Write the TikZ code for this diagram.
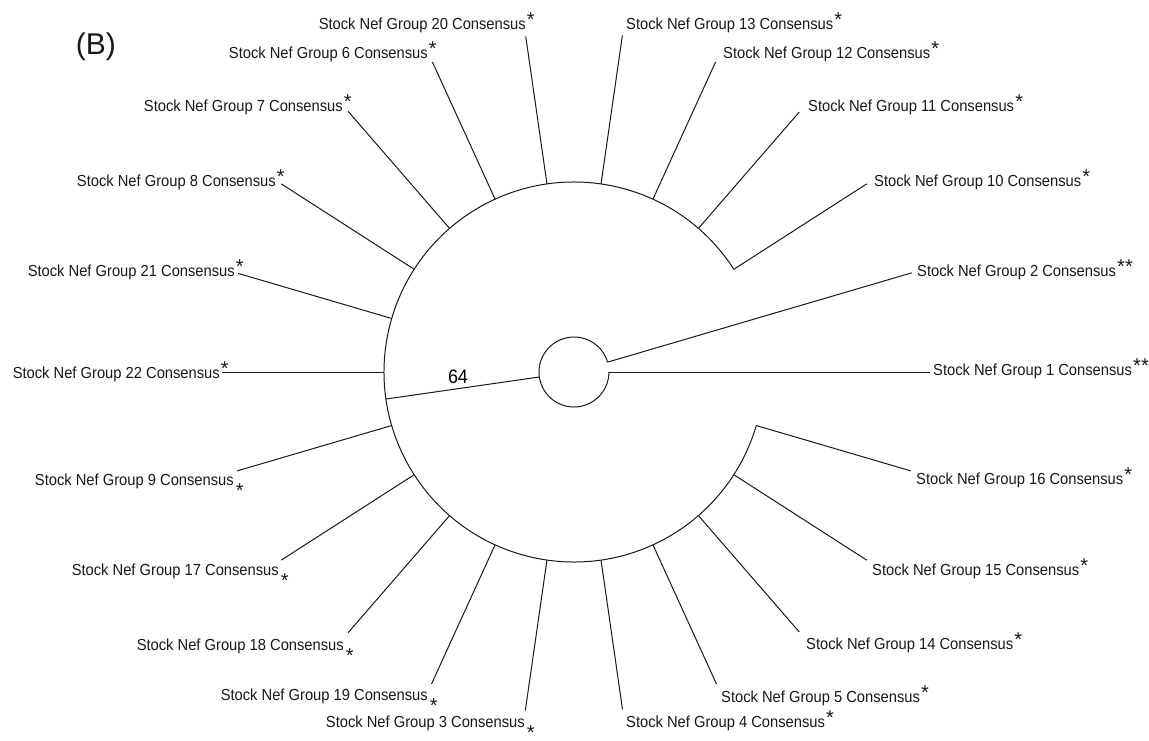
\documentclass[tikz,border=0pt]{standalone}
\usepackage{fontspec}
\setmainfont{Liberation Sans}
\newfontfamily\labfam[FakeStretch=0.92]{Liberation Sans}
\newcommand{\labfont}{\labfam\fontsize{16}{19}\selectfont}
\newcommand{\stsize}{\normalfont\fontsize{20}{20}\selectfont}
\newcommand{\supst}{\hspace{1.2pt}\raisebox{2.3pt}{\stsize *}}
\newcommand{\supdst}{\hspace{1.2pt}\raisebox{2.3pt}{\stsize **}}
\newcommand{\lsupst}{\rlap{\hspace{1.2pt}\raisebox{2.3pt}{\stsize *}}}
\newcommand{\lsubst}{\rlap{\hspace{2pt}\smash{\raisebox{-12pt}{\stsize *}}}}
\tikzset{
  branch/.style={line width=1pt, draw=black!90},
  lab/.style={font=\labfont, inner sep=0pt, text=black!90},
  labR/.style={lab, anchor=base west},
  labL/.style={lab, anchor=base east},
}
\begin{document}
\begin{tikzpicture}[x=1pt,y=1pt]
\useasboundingbox (-574,-368) rectangle (575,372);
\fill[white] (-574,-368) rectangle (575,372);

% root (small circle) and internal node on the large circle
\coordinate (root) at (0,0);
\coordinate (rootA) at (16.3636:35);
\coordinate (n64in) at (188.18:35);
\coordinate (n64out) at (188.18:190);
\coordinate (bigA) at (32.7273:190);
\draw[branch] (rootA) arc[start angle=16.3636, end angle=360, radius=35];
\draw[branch] (n64in) -- (n64out);
\draw[branch] (bigA) arc[start angle=32.7273, end angle=343.6364, radius=190];
\node[font=\labfam\fontsize{19.5}{20}\selectfont, inner sep=0pt] (lab64) at (-116,-5) {64};

% leaves on the root
\coordinate (inG1) at (0:35);
\coordinate (outG1) at (0:356);
\coordinate (inG2) at (16.3636:35);
\coordinate (outG2) at (16.3636:352);
\draw[branch] (inG1) -- (outG1);
\draw[branch] (inG2) -- (outG2);

% leaves on the large circle
\foreach \n/\k/\r in {G10/2/348, G11/3/344, G12/4/341, G13/5/340, G20/6/339,
  G6/7/341, G7/8/345, G8/9/348, G21/10/350, G22/11/352, G9/12/351, G17/13/348,
  G18/14/345, G19/15/343, G3/16/342, G4/17/341, G5/18/343, G14/19/344,
  G15/20/348, G16/21/351} {
  \coordinate (in\n) at ({\k*360/22}:190);
  \coordinate (out\n) at ({\k*360/22}:\r);
  \draw[branch] (in\n) -- (out\n);
}

% labels, right side
\node[labR] (tG1)  at (359,-3)   {Stock Nef Group 1 Consensus\supdst};
\node[labR] (tG2)  at (343,96)   {Stock Nef Group 2 Consensus\supdst};
\node[labR] (tG10) at (300,186)  {Stock Nef Group 10 Consensus\supst};
\node[labR] (tG11) at (234,261)  {Stock Nef Group 11 Consensus\supst};
\node[labR] (tG12) at (149,314)  {Stock Nef Group 12 Consensus\supst};
\node[labR] (tG13) at (52,343)   {Stock Nef Group 13 Consensus\supst};
\node[labR] (tG4)  at (52,-355)  {Stock Nef Group 4 Consensus\supst};
\node[labR] (tG5)  at (147,-330) {Stock Nef Group 5 Consensus\supst};
\node[labR] (tG14) at (232,-277) {Stock Nef Group 14 Consensus\supst};
\node[labR] (tG15) at (298,-203) {Stock Nef Group 15 Consensus\supst};
\node[labR] (tG16) at (342,-112) {Stock Nef Group 16 Consensus\supst};

% labels, left side
\node[labL] (tG20) at (-48,343)   {Stock Nef Group 20 Consensus\lsupst};
\node[labL] (tG6)  at (-146,314)  {Stock Nef Group 6 Consensus\lsupst};
\node[labL] (tG7)  at (-231,261)  {Stock Nef Group 7 Consensus\lsupst};
\node[labL] (tG8)  at (-298,186)  {Stock Nef Group 8 Consensus\lsupst};
\node[labL] (tG21) at (-339,96)   {Stock Nef Group 21 Consensus\lsupst};
\node[labL] (tG22) at (-354,-6)   {Stock Nef Group 22 Consensus\lsupst};
\node[labL] (tG9)  at (-340,-113) {Stock Nef Group 9 Consensus\lsubst};
\node[labL] (tG17) at (-295,-203) {Stock Nef Group 17 Consensus\lsubst};
\node[labL] (tG18) at (-230,-278) {Stock Nef Group 18 Consensus\lsubst};
\node[labL] (tG19) at (-146,-328) {Stock Nef Group 19 Consensus\lsubst};
\node[labL] (tG3)  at (-49,-355)  {Stock Nef Group 3 Consensus\lsubst};

% panel label
\node[font=\fontsize{30}{30}\selectfont, inner sep=0pt, text=black!90] (panel) at (-478,325) {(B)};
\end{tikzpicture}
\end{document}
